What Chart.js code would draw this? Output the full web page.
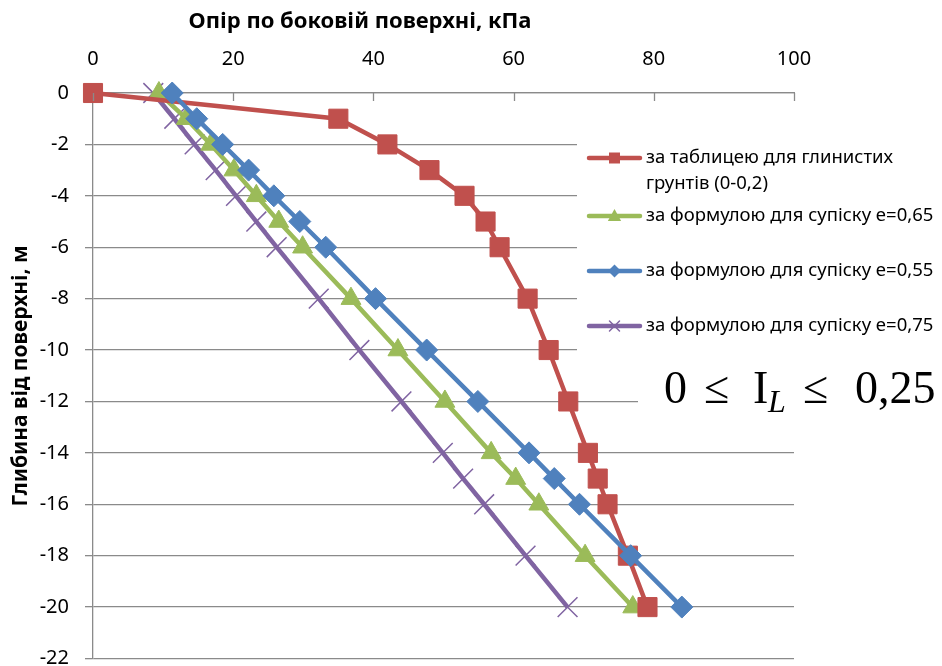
<!DOCTYPE html>
<html>
<head>
<meta charset="utf-8">
<script src="https://cdn.jsdelivr.net/npm/chart.js@4/dist/chart.umd.min.js"></script>
<style>
  html, body { margin: 0; padding: 0; background: #ffffff; overflow: hidden; }
  #wrap { width: 942px; height: 666px; overflow: hidden; }
  #c { display: block; }
</style>
</head>
<body>
<div id="wrap"><canvas id="c" width="942" height="674"></canvas></div>
<script>
// Depth below surface, m
const depths = [0, -1, -2, -3, -4, -5, -6, -8, -10, -12, -14, -15, -16, -18, -20];

// Side friction, kPa
const tableClay    = [0, 35, 42, 48, 53, 56, 58, 62, 65, 67.8, 70.6, 72, 73.4, 76.3, 79.1];
const sandyLoam065 = [9.4, 13.3, 16.8, 20.1, 23.3, 26.5, 29.9, 36.8, 43.5, 50.2, 56.8, 60.3, 63.6, 70.2, 77.0];
const sandyLoam055 = [11.3, 14.8, 18.5, 22.2, 25.8, 29.5, 33.2, 40.3, 47.6, 54.9, 62.2, 65.8, 69.4, 76.7, 84.0];
const sandyLoam075 = [8.6, 11.6, 14.5, 17.5, 20.4, 23.3, 26.2, 32.2, 38.0, 44.0, 49.9, 52.8, 55.8, 61.7, 67.7];

const seriesNames = [
  ['за таблицею для глинистих', 'грунтів (0-0,2)'],
  ['за формулою для супіску е=0,65'],
  ['за формулою для супіску е=0,55'],
  ['за формулою для супіску е=0,75']
];

const xTitle = 'Опір по боковій поверхні, кПа';
const yTitle = 'Глибина від поверхні, м';

const RED = '#C0504D', GREEN = '#9BBB59', BLUE = '#4F81BD', PURPLE = '#8064A2';
const GRID = '#8a8a8a';
const FONT = '"Noto Sans", "DejaVu Sans", sans-serif';

const toPoints = vals => vals.map((v, i) => ({ x: v, y: depths[i] }));

// Small marker painter for the legend keys
function drawMarker(ctx, style, x, y, r, color) {
  ctx.save();
  ctx.fillStyle = color;
  ctx.strokeStyle = color;
  ctx.beginPath();
  if (style === 'rect') {
    ctx.rect(x - r, y - r, 2 * r, 2 * r);
    ctx.fill();
  } else if (style === 'rectRot') {
    ctx.moveTo(x, y - r); ctx.lineTo(x + r, y); ctx.lineTo(x, y + r); ctx.lineTo(x - r, y);
    ctx.closePath(); ctx.fill();
  } else if (style === 'triangle') {
    ctx.moveTo(x, y - r); ctx.lineTo(x + r * 0.95, y + r * 0.7); ctx.lineTo(x - r * 0.95, y + r * 0.7);
    ctx.closePath(); ctx.fill();
  } else if (style === 'crossRot') {
    ctx.lineWidth = 1.5;
    ctx.moveTo(x - r, y - r); ctx.lineTo(x + r, y + r);
    ctx.moveTo(x + r, y - r); ctx.lineTo(x - r, y + r);
    ctx.stroke();
  }
  ctx.restore();
}

const decorations = {
  id: 'decorations',
  afterDraw(chart) {
    const ctx = chart.ctx;
    const xs = chart.scales.x;
    const area = chart.chartArea;
    ctx.save();

    // tick marks of the top axis point into the plot
    ctx.strokeStyle = GRID;
    ctx.lineWidth = 1.3;
    xs.ticks.forEach(t => {
      const px = Math.round(xs.getPixelForValue(t.value)) + 0.5;
      ctx.beginPath();
      ctx.moveTo(px, area.top);
      ctx.lineTo(px, area.top + 8);
      ctx.stroke();
    });

    // axis titles
    ctx.fillStyle = '#000';
    ctx.textAlign = 'center';
    ctx.textBaseline = 'middle';
    ctx.font = 'bold 22px ' + FONT;
    ctx.fillText(xTitle, 360, 22);
    ctx.save();
    ctx.translate(21, 376);
    ctx.rotate(-Math.PI / 2);
    ctx.font = 'bold 21px ' + FONT;
    ctx.fillText(yTitle, 0, 0);
    ctx.restore();

    // legend box
    ctx.fillStyle = '#fff';
    ctx.fillRect(577, 138, 365, 216);
    const entries = [
      { names: seriesNames[0], color: RED, style: 'rect', r: 5.5, y: 158 },
      { names: seriesNames[1], color: GREEN, style: 'triangle', r: 7, y: 216 },
      { names: seriesNames[2], color: BLUE, style: 'rectRot', r: 6.5, y: 271 },
      { names: seriesNames[3], color: PURPLE, style: 'crossRot', r: 5, y: 326 }
    ];
    ctx.font = '18.5px ' + FONT;
    ctx.textAlign = 'left';
    ctx.textBaseline = 'middle';
    entries.forEach(e => {
      ctx.strokeStyle = e.color;
      ctx.lineWidth = 4.5;
      ctx.lineCap = 'round';
      ctx.beginPath();
      ctx.moveTo(589, e.y);
      ctx.lineTo(640, e.y);
      ctx.stroke();
      drawMarker(ctx, e.style, 614.5, e.y, e.r, e.color);
      ctx.fillStyle = '#000';
      e.names.forEach((line, k) => ctx.fillText(line, 646, e.y + k * 26));
    });

    // liquidity index range
    ctx.fillStyle = '#fff';
    ctx.fillRect(638, 356, 304, 62);
    ctx.fillStyle = '#000';
    ctx.textBaseline = 'alphabetic';
    ctx.font = '46px "Liberation Serif", "DejaVu Serif", serif';
    ctx.fillText('0', 664, 403);
    ctx.fillText('≤', 704, 403);
    ctx.fillText('I', 753, 403);
    ctx.fillText('≤', 803, 403);
    ctx.fillText('0,25', 855, 403);
    ctx.font = 'italic 32px "Liberation Serif", "DejaVu Serif", serif';
    ctx.fillText('L', 768, 412);

    ctx.restore();
  }
};

const seriesStyle = (color, pointStyle, radius, borderW, order) => ({
  showLine: true,
  clip: false,
  borderColor: color, backgroundColor: color, borderWidth: 4.5,
  pointStyle: pointStyle, pointRadius: radius, pointBorderWidth: borderW,
  pointBackgroundColor: color, pointBorderColor: color,
  order: order
});

new Chart(document.getElementById('c'), {
  type: 'scatter',
  data: {
    datasets: [
      Object.assign({ label: seriesNames[0].join(' '), data: toPoints(tableClay) },
        seriesStyle(RED, 'rect', 13.5, 1, 2)),
      Object.assign({ label: seriesNames[1][0], data: toPoints(sandyLoam065) },
        seriesStyle(GREEN, 'triangle', 11.5, 1, 3)),
      Object.assign({ label: seriesNames[2][0], data: toPoints(sandyLoam055) },
        seriesStyle(BLUE, 'rectRot', 11, 1, 1)),
      Object.assign({ label: seriesNames[3][0], data: toPoints(sandyLoam075) },
        seriesStyle(PURPLE, 'crossRot', 14, 1.5, 4))
    ]
  },
  options: {
    responsive: false,
    animation: false,
    devicePixelRatio: 1,
    layout: { padding: { left: 0, top: 0, right: 148, bottom: 0 } },
    plugins: { legend: { display: false }, tooltip: { enabled: false } },
    scales: {
      x: {
        type: 'linear',
        position: 'top',
        min: 0, max: 100,
        ticks: { stepSize: 20, color: '#000', font: { family: FONT, size: 20 }, padding: 22 },
        grid: { drawOnChartArea: false, drawTicks: false },
        border: { display: true, color: GRID, width: 1.3 },
        afterFit(s) { s.height = 93; s.paddingLeft = 0; s.paddingRight = 0; }
      },
      y: {
        type: 'linear',
        min: -22, max: 0,
        ticks: { stepSize: 2, color: '#000', font: { family: FONT, size: 20 }, padding: 16 },
        grid: { color: GRID, lineWidth: 1.3, tickLength: 8 },
        border: { display: true, color: GRID, width: 1.3 },
        afterFit(s) { s.width = 93; s.paddingTop = 0; s.paddingBottom = 0; }
      }
    }
  },
  plugins: [decorations]
});
</script>
</body>
</html>
